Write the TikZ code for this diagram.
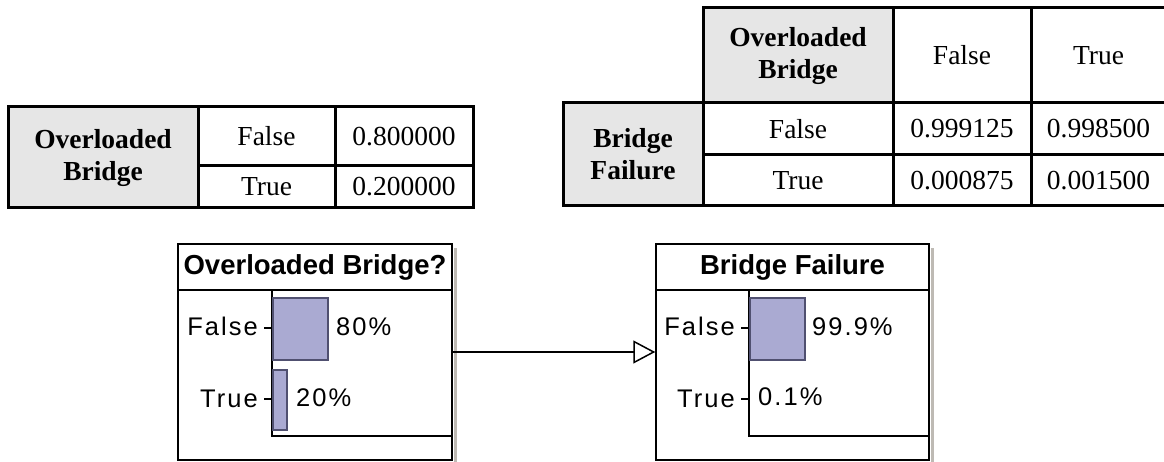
\documentclass[tikz,border=0pt]{standalone}
\usepackage{fontspec}
\setmainfont{Liberation Serif}
\newfontfamily\netsans{Liberation Sans}
\newfontfamily\netsansls[LetterSpace=8]{Liberation Sans}
\usetikzlibrary{arrows.meta}

\definecolor{hdrgray}{RGB}{230,230,230}
\definecolor{barfill}{RGB}{170,170,210}
\definecolor{barline}{RGB}{80,80,112}
\definecolor{shadowgray}{RGB}{190,186,180}

\tikzset{
  cell/.style={draw=black, line width=3pt, fill=white, inner sep=0pt,
    align=center, font=\fontsize{27.5}{32}\selectfont},
  hdrcell/.style={cell, fill=hdrgray, font=\fontsize{27.5}{32}\selectfont\bfseries},
  netbox/.style={draw=black, line width=1.5pt, fill=white, inner sep=0pt},
  nettitle/.style={inner sep=0pt, font=\netsans\fontsize{27.5}{30}\selectfont\bfseries},
  statelabel/.style={inner sep=0pt, font=\netsansls\fontsize{25.5}{30}\selectfont},
  bar/.style={draw=barline, line width=1.5pt, fill=barfill, inner sep=0pt},
  axis/.style={draw=black, line width=1.5pt},
  shadow/.style={fill=shadowgray},
  link/.style={line width=2pt, -{Triangle[open, length=22pt, width=23pt, line width=1.5pt]}}
}

\begin{document}
\begin{tikzpicture}[x=1pt, y=-1pt]
\useasboundingbox (0,0) rectangle (1164,462);
\fill[white] (0,0) rectangle (1164,462);

% prior table for the parent node
\node[hdrcell, minimum width=190pt, minimum height=101pt] (pHead) at (103,157.5) {Overloaded\\Bridge};
\node[cell, minimum width=137pt, minimum height=59pt] (pFalse) at (266.5,136.5) {False};
\node[cell, minimum width=137pt, minimum height=42pt] (pTrue) at (266.5,187) {True};
\node[cell, minimum width=138pt, minimum height=59pt] (pValF) at (404,136.5) {0.800000};
\node[cell, minimum width=138pt, minimum height=42pt] (pValT) at (404,187) {0.200000};

% conditional table for the child node
\node[hdrcell, minimum width=190pt, minimum height=95pt] (cParent) at (798,55.5) {Overloaded\\Bridge};
\node[cell, minimum width=138pt, minimum height=95pt] (cColF) at (962,55.5) {False};
\node[cell, minimum width=135pt, minimum height=95pt] (cColT) at (1098.5,55.5) {True};
\node[hdrcell, minimum width=140pt, minimum height=103pt] (cChild) at (633,154.5) {Bridge\\Failure};
\node[cell, minimum width=190pt, minimum height=52pt] (cRowF) at (798,129) {False};
\node[cell, minimum width=190pt, minimum height=51pt] (cRowT) at (798,180.5) {True};
\node[cell, minimum width=138pt, minimum height=52pt] (cFF) at (962,129) {0.999125};
\node[cell, minimum width=135pt, minimum height=52pt] (cFT) at (1098.5,129) {0.998500};
\node[cell, minimum width=138pt, minimum height=51pt] (cTF) at (962,180.5) {0.000875};
\node[cell, minimum width=135pt, minimum height=51pt] (cTT) at (1098.5,180.5) {0.001500};

% network node: Overloaded Bridge?
\fill[shadow] (453.5,248) rectangle (456.5,462);
\node[netbox, minimum width=274pt, minimum height=216pt] (ob) at (315,352) {};
\draw[axis] (ob.west |- 0,290) -- (ob.east |- 0,290);
\node[nettitle] (obTitle) at (315,267) {Overloaded Bridge?};
\draw[axis] (272,290) -- (272,436) -- (ob.east |- 0,436);
\node[bar, minimum width=55pt, minimum height=62pt, anchor=north west] (obBarF) at (272,297) {};
\node[bar, minimum width=14pt, minimum height=60pt, anchor=north west] (obBarT) at (272,369) {};
\draw[axis] (264,328) -- (271,328);
\draw[axis] (264,399) -- (271,399);
\node[statelabel, anchor=base east] (obLabF) at (258,335) {False};
\node[statelabel, anchor=base east] (obLabT) at (258,407) {True};
\node[statelabel, anchor=base west] (obPctF) at (336,335) {80\%};
\node[statelabel, anchor=base west] (obPctT) at (296,406) {20\%};

% network node: Bridge Failure
\fill[shadow] (930.5,248) rectangle (933.5,462);
\node[netbox, minimum width=273pt, minimum height=216pt] (bf) at (792.5,352) {};
\draw[axis] (bf.west |- 0,290) -- (bf.east |- 0,290);
\node[nettitle] (bfTitle) at (792.5,267) {Bridge Failure};
\draw[axis] (749,290) -- (749,436) -- (bf.east |- 0,436);
\node[bar, minimum width=55pt, minimum height=62pt, anchor=north west] (bfBarF) at (749,297) {};
\draw[axis] (741,328) -- (748,328);
\draw[axis] (741,399) -- (748,399);
\node[statelabel, anchor=base east] (bfLabF) at (735,335) {False};
\node[statelabel, anchor=base east] (bfLabT) at (735,407) {True};
\node[statelabel, anchor=base west] (bfPctF) at (812,335) {99.9\%};
\node[statelabel, anchor=base west] (bfPctT) at (758,405) {0.1\%};

% dependency link
\draw[link] (ob.east) -- (bf.west);
\end{tikzpicture}
\end{document}
